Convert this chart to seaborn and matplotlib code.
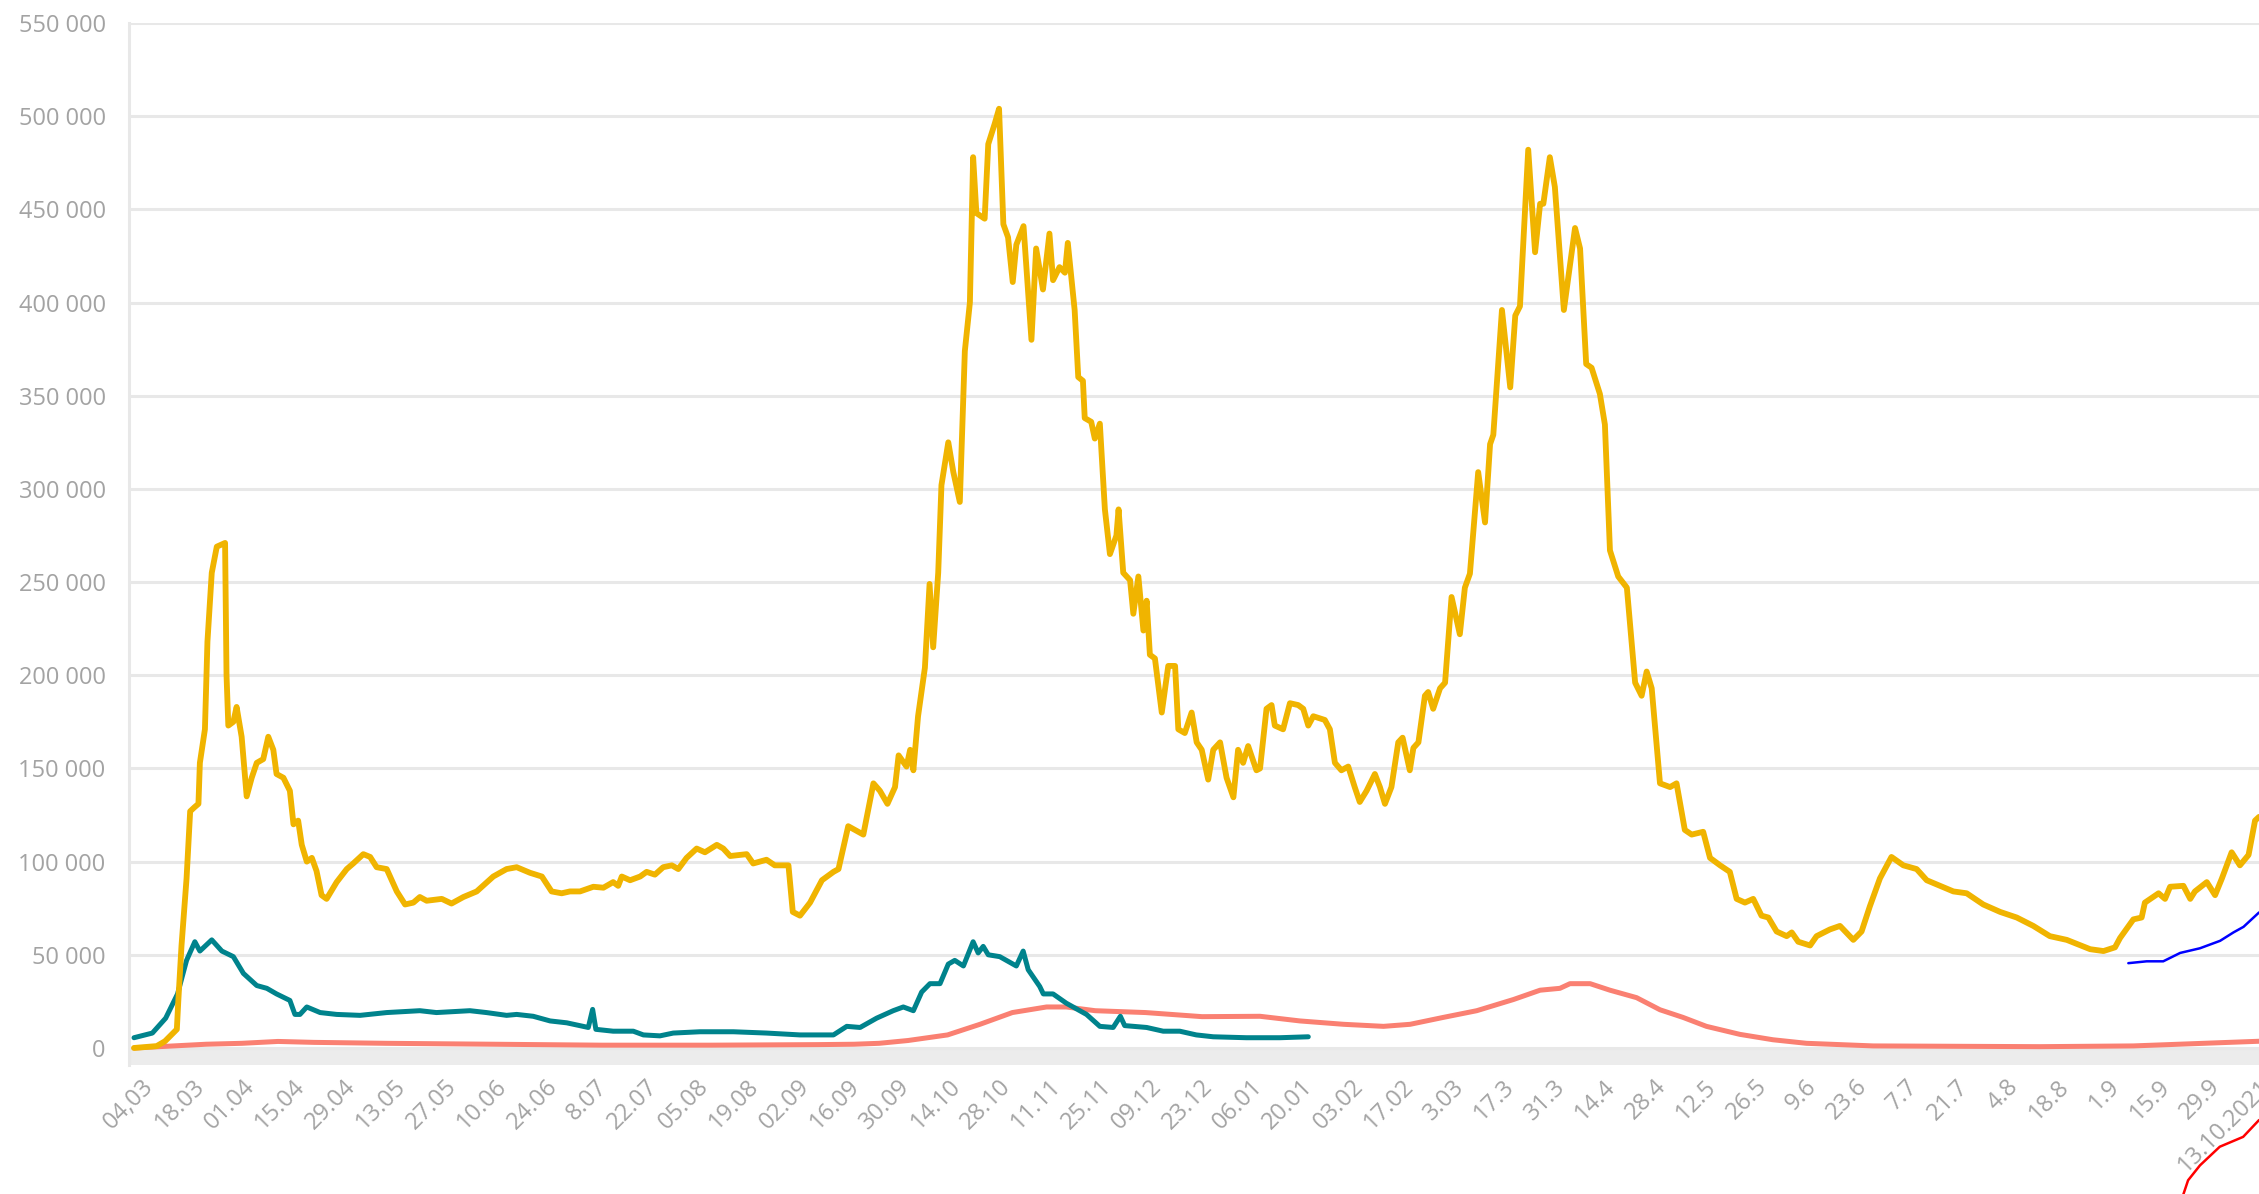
import pandas as pd
import matplotlib.pyplot as plt
import matplotlib.ticker as mticker
from matplotlib.transforms import ScaledTranslation
import seaborn as sns

start = pd.Timestamp("2020-03-04")

# x values: days since 04.03.2020, y values: thousands
yellow_days = [0, 6.3, 8.6, 11.9, 12.3, 13.2, 14.6, 15.6, 16.7, 17.9, 18.3, 19.7, 20.4, 21.6, 23, 25.3,
               25.7, 26.2, 27.6, 28.5, 29.9, 31.3, 32.7, 34.1, 35.9, 37.3, 38.7, 39.6, 41.5, 43.3, 44.3,
               45.6, 46.6, 48, 49.4, 50.7, 52.1, 53.5, 56.3, 59.1, 60.9, 63.7, 65.6, 67.4, 70.2, 73,
               75.3, 77.6, 79.4, 81.3, 85.5, 88.2, 91.5, 95.2, 99.8, 103.5, 106.3, 110, 113.3, 116,
               118.8, 121.1, 123.9, 127.6, 130.4, 133.1, 134.5, 135.5, 137.8, 140.6, 142.4, 144.7, 147,
               149.4, 151.2, 153.5, 156.3, 158.6, 161.9, 163.7, 165.6, 170.2, 172, 175.7, 178, 181.8,
               183, 185, 187.8, 191.1, 194.3, 195.7, 198.4, 202.6, 205.4, 207.2, 209.3, 211.4, 212.4,
               214.6, 215.6, 216.5, 217.8, 219.7, 221, 222, 223.4, 224.3, 226.2, 227.6, 229.4, 230.8,
               232.2, 233.1, 234, 236.3, 237.3, 239.1, 240.3, 241.5, 242.8, 244.1, 245.1, 247.1, 249.3,
               250.6, 252.5, 254.3, 255.3, 257.1, 258.6, 259.4, 261.3, 262.3, 263.6, 264.1, 265.9, 266.9,
               268.3, 269.7, 271.1, 272.9, 273.5, 274.8, 276.7, 277.6, 279, 280.4, 281.3, 282.2, 283.6,
               285.5, 287.3, 289.2, 290.1, 291.9, 293.8, 295.2, 296.6, 298.4, 299.8, 301.7, 303.5, 305.4,
               306.7, 308.1, 309.5, 311.8, 312.8, 314.6, 316, 316.9, 319.2, 321.1, 323.4, 324.8, 326.2,
               327.6, 330.8, 332.2, 333.6, 335.4, 337.3, 339.1, 340.5, 342.4, 344.7, 346.1, 347.5, 349.3,
               351.2, 352.4, 354.4, 355.4, 356.8, 358.6, 359.5, 360.9, 362.8, 364.2, 366, 368.3, 369.7,
               371.1, 373.4, 375.3, 376.7, 377.6, 380, 382.3, 383.7, 385, 387.3, 389.2, 390.6, 391.5,
               393.3, 394.7, 397.2, 400.3, 401.7, 403.4, 404.9, 407.2, 408.6, 410, 412.3, 414.7, 417,
               418.8, 420.2, 421.6, 423.9, 426.7, 428.5, 430.8, 432.7, 435.9, 437.8, 440.6, 443.3, 445.2,
               447.5, 449.8, 452.1, 454, 456.3, 459.1, 460.5, 462.3, 465.6, 467.4, 471.1, 473.9, 477.6,
               479.9, 482.2, 485, 488.2, 491.5, 495.2, 498, 501.7, 505.4, 509.1, 513.7, 518.4, 523,
               527.6, 532.2, 536.9, 541.5, 543.4, 547.1, 550.3, 551.7, 555.4, 557.7, 558.6, 562.4, 564.2,
               565.6, 569.3, 571.2, 572.5, 575.8, 578.1, 580, 582.7, 585, 587.4, 589.2, 590.3]
yellow_vals = [0, 1, 3.6, 10, 25, 55, 91, 127, 129, 131, 153, 171, 218, 255, 269, 271,
               200, 173, 175, 183, 167, 135, 145, 153, 155, 167, 160, 147, 145, 138, 120,
               122, 109, 100, 102, 95, 82, 80, 89, 96, 99, 104, 102.5, 97, 96, 84,
               77, 78, 81, 79, 80, 77.5, 81, 84, 92, 96, 97, 94, 92, 84,
               83, 84, 84, 86.5, 86, 89, 87, 92, 90, 92, 94.5, 93, 97,
               98, 96, 102, 107, 105, 109, 107, 103, 104, 99, 101, 98, 98,
               73, 71, 78, 90, 94.5, 96, 119, 114.5, 142, 138, 131, 140, 157,
               151, 160, 149, 178, 204, 249, 215, 255, 302, 325, 309, 293, 374,
               400, 478, 448, 445, 485, 496, 504, 442, 435, 411, 431, 441, 380,
               429, 407, 437, 412, 419, 416, 432, 396, 360, 358, 338, 336, 327,
               335, 289, 265, 275, 289, 255, 251, 233, 253, 224, 240, 211, 209,
               180, 205, 205, 171, 169, 180, 164, 160, 144, 160, 164, 145, 134.5,
               160, 153, 162, 149, 150, 182, 184, 173, 171, 185, 184, 182, 173,
               178, 176, 171, 153, 149, 151, 140, 132, 138, 147, 140, 131, 140,
               164, 166.5, 149, 161, 164, 189, 191, 182, 193, 196, 242, 222, 247,
               254.5, 309, 282, 324, 329, 396, 354.5, 393, 398, 482, 427, 453, 453,
               478, 462, 396, 440, 429, 367, 365, 351, 334.5, 267, 253, 247, 196,
               189, 202, 193, 142, 140, 142, 117, 114.5, 116, 102, 98, 94.5, 80,
               78, 80, 71, 70, 62.5, 60, 62, 57, 55, 60, 63.6, 65.5, 58,
               62.5, 76, 91, 102.5, 98, 96, 90, 87, 84, 83, 77, 73, 70,
               65.5, 60, 58, 54.5, 53, 52, 54, 59, 69, 70, 78, 83, 80,
               86.5, 87, 80, 84, 89, 82, 91, 105, 98, 103.6, 122, 124]

teal_days = [0, 5.1, 8.8, 12.1, 14.6, 16.9, 18.3, 21.6, 24.4, 27.6, 30.4, 34.1, 36.9, 39.6, 43.3,
             44.7, 46.1, 48, 51.7, 56.3, 62.8, 70.2, 79.4, 84, 93.3, 97.9, 103.5, 106.3, 110.9,
             115.6, 120.2, 126.2, 127.4, 128.3, 133.1, 138.7, 141.5, 146.1, 149.8, 157.2, 166.5,
             175.7, 185, 194.3, 198, 201.7, 206.3, 210.9, 213.7, 216.5, 218.8, 221.1, 223.9, 226.2,
             228, 230.4, 233.1, 234.5, 235.9, 237.3, 240.5, 245.1, 247, 248.4, 251.6, 252.6, 255.3,
             259, 264.6, 268.3, 272, 274, 275.2, 281.3, 285.9, 290.5, 295.1, 299.8, 309, 318.3, 326.2]
teal_vals = [5.5, 8, 16, 29, 47, 57, 52, 58, 52, 49, 40, 33.5, 32, 29, 25.5,
             18, 18, 22, 19, 18, 17.5, 19, 20, 19, 20, 19, 17.5, 18, 17,
             14.5, 13.5, 11, 20.7, 10, 9, 9, 7, 6.5, 8, 8.7, 8.7,
             8, 7, 7, 11.6, 11, 16, 20, 22, 20, 30, 34.5, 34.5, 45,
             47, 44, 57, 51, 54.5, 50, 49, 44, 52, 42, 33, 29, 29,
             24, 18, 11.6, 11, 17, 12, 11, 9, 9, 7, 6, 5.5, 5.5, 6]

salmon_days = [0, 10, 20, 30, 40, 50, 70, 100, 130, 160, 190, 200, 207, 215, 226, 235, 244, 253.5,
               259, 267, 281, 296.7, 312.8, 323.9, 336, 347.1, 354.5, 363.7, 373, 383.2, 390.6,
               396.1, 398.9, 404.5, 410, 417.4, 423.9, 430.3, 436.8, 446.1, 455.3, 464.6, 483.1,
               529.4, 555.4, 590.3]
salmon_vals = [0, 1, 2, 2.5, 3.5, 3, 2.5, 2, 1.5, 1.5, 1.8, 2, 2.5, 4, 7, 12.7, 19, 22,
               22, 20, 19, 16.8, 17, 14.5, 12.7, 11.6, 12.7, 16.4, 20, 26, 31,
               32, 34.5, 34.5, 31, 27, 20.5, 16.4, 11.6, 7.3, 4.4, 2.5, 1.1,
               0.7, 1.1, 3.6]

blue_days = [554, 559.1, 563.7, 568.4, 573.9, 579.5, 583.2, 586, 590.3]
blue_vals = [45.5, 46.5, 46.5, 51, 53.5, 57.5, 62, 65, 72.7]

red_days = [569.3, 570.6, 573.9, 579.4, 585.9, 590.3]
red_vals = [-78.5, -71, -63, -53, -47.7, -38.7]

tick_labels = ["04,03", "18.03", "01.04", "15.04", "29.04", "13.05", "27.05", "10.06", "24.06",
               "8.07", "22.07", "05.08", "19.08", "02.09", "16.09", "30.09", "14.10", "28.10",
               "11.11", "25.11", "09.12", "23.12", "06.01", "20.01", "03.02", "17.02", "3.03",
               "17.3", "31.3", "14.4", "28.4", "12.5", "26.5", "9.6", "23.6", "7.7", "21.7",
               "4.8", "18.8", "1.9", "15.9", "29.9", "13.10.2021"]


def frame(days, vals):
    return pd.DataFrame({"date": start + pd.to_timedelta(days, unit="D"),
                         "value": [v * 1000 for v in vals]})


sns.set_style("white")
plt.rcParams["font.family"] = ["Open Sans", "DejaVu Sans"]

W, H = 2259, 1194
fig = plt.figure(figsize=(W / 100, H / 100), dpi=100)
ax = fig.add_axes([129 / W, 1 - 1065 / H, 1 - 129 / W, (1065 - 23) / H])

grid_col = "#e8e8e8"
text_col = "#a3a3a3"
ax.axhspan(-9140, 0, color="#ececec", lw=0, zorder=0)

sns.lineplot(data=frame(salmon_days, salmon_vals), x="date", y="value", ax=ax,
             color="#fa8072", linewidth=3.6)
sns.lineplot(data=frame(teal_days, teal_vals), x="date", y="value", ax=ax,
             color="#00838c", linewidth=3.6)
sns.lineplot(data=frame(yellow_days, yellow_vals), x="date", y="value", ax=ax,
             color="#f0b400", linewidth=4.2)
sns.lineplot(data=frame(blue_days, blue_vals), x="date", y="value", ax=ax,
             color="#0000ff", linewidth=1.8)
sns.lineplot(data=frame(red_days, red_vals), x="date", y="value", ax=ax,
             color="#ff0000", linewidth=1.8)
ax.lines[-1].set_clip_on(False)

ax.set_xlim(start - pd.Timedelta(days=1.39), start + pd.Timedelta(days=590.3))
ax.set_ylim(-9140, 550000)

ax.set_yticks(range(0, 550001, 50000))
ax.yaxis.set_major_formatter(mticker.FuncFormatter(lambda v, p: f"{int(v):,}".replace(",", " ")))
ax.yaxis.grid(True, color=grid_col, linewidth=2.2)
ax.set_axisbelow(True)
ax.tick_params(axis="y", length=10.8, width=2.2, color=grid_col, labelsize=17,
               labelcolor=text_col, pad=6)

ticks = [start + pd.Timedelta(days=14 * i) for i in range(len(tick_labels))]
ax.set_xticks(ticks)
ax.set_xticklabels(tick_labels)
ax.tick_params(axis="x", length=0, labelsize=17, labelcolor=text_col, pad=7)
shift = ScaledTranslation(8 / 100, 0, fig.dpi_scale_trans)
for lab in ax.get_xticklabels():
    lab.set_rotation(45)
    lab.set_ha("right")
    lab.set_va("top")
    lab.set_rotation_mode("anchor")
    lab.set_transform(lab.get_transform() + shift)

ax.set_xlabel("")
ax.set_ylabel("")
for side in ["top", "right", "bottom"]:
    ax.spines[side].set_visible(False)
ax.spines["left"].set_color(grid_col)
ax.spines["left"].set_linewidth(2.2)

fig.savefig("out.png", dpi=100)
plt.close()
